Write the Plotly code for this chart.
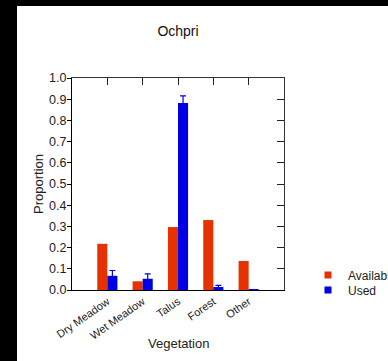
import plotly.graph_objects as go

categories = ["Dry Meadow", "Wet Meadow", "Talus", "Forest", "Other"]
available = [0.218, 0.041, 0.297, 0.330, 0.137]
used = [0.067, 0.053, 0.882, 0.014, 0.001]
used_err = [0.025, 0.023, 0.034, 0.008, 0.0]
yticks = [0.0, 0.1, 0.2, 0.3, 0.4, 0.5, 0.6, 0.7, 0.8, 0.9, 1.0]
ytick_labels = ["0.0", "0.1", "0.2", "0.3", "0.4", "0.5", "0.6", "0.7", "0.8", "0.9", "1.0"]

RED = "#E63200"
BLUE = "#0000E6"
FONT = "Liberation Sans, Arial, sans-serif"

W, H = 388, 361
L, R, T, B = 72, 104, 78, 71
pw, ph = W - L - R, H - T - B

def px2paper_x(p):
    return (p - L) / pw

def px2paper_y(p):
    return (H - B - p) / ph

fig = go.Figure()
fig.add_trace(go.Bar(x=categories, y=available, name="Available", marker=dict(color=RED, line=dict(width=0)),
                     showlegend=False))
fig.add_trace(go.Bar(x=categories, y=used, name="Used", marker=dict(color=BLUE, line=dict(width=0)),
                     error_y=dict(type="data", array=used_err, color=BLUE, thickness=1.2, width=3),
                     showlegend=False))
# legend entries
fig.add_trace(go.Scatter(x=[None], y=[None], mode="markers", name="Available", legend="legend",
                         marker=dict(symbol="square", size=7, color=RED)))
fig.add_trace(go.Scatter(x=[None], y=[None], mode="markers", name="Used", legend="legend2",
                         marker=dict(symbol="square", size=7, color=BLUE)))
# frame helper trace
fig.add_trace(go.Scatter(x=[None], y=[None], xaxis="x2", yaxis="y2", showlegend=False, hoverinfo="skip"))

fig.add_shape(type="rect", xref="paper", yref="paper",
              x0=px2paper_x(0), x1=px2paper_x(W), y0=px2paper_y(H), y1=px2paper_y(0),
              fillcolor="black", line=dict(width=0), layer="below")
fig.add_shape(type="rect", xref="paper", yref="paper",
              x0=px2paper_x(17), x1=px2paper_x(W + 2), y0=px2paper_y(H + 2), y1=px2paper_y(6),
              fillcolor="white", line=dict(width=0), layer="below")

fig.add_annotation(text="Vegetation", xref="paper", yref="paper",
                   x=px2paper_x(178), y=px2paper_y(343), xanchor="center", yanchor="middle",
                   showarrow=False, font=dict(size=13, color="#222"))

legend_common = dict(xanchor="left", yanchor="middle", bgcolor="rgba(0,0,0,0)",
                     font=dict(size=12, color="#222"), itemwidth=30)

fig.update_layout(
    width=W, height=H,
    margin=dict(l=L, r=R, t=T, b=B, autoexpand=False),
    paper_bgcolor="black",
    plot_bgcolor="rgba(0,0,0,0)",
    font=dict(family=FONT, size=12, color="#222"),
    title=dict(text="Ochpri", x=178 / W, xanchor="center",
               y=1 - 31 / H, yanchor="middle", font=dict(size=14, color="#111")),
    barmode="group", bargap=0.43, bargroupgap=0.0,
    xaxis=dict(type="category", categoryorder="array", categoryarray=categories,
               range=[-1, 5], showline=True, linecolor="black", linewidth=1,
               ticks="", tickangle=-35, tickfont=dict(size=11, color="#222"),
               showgrid=False, zeroline=False),
    yaxis=dict(range=[0, 1], tickvals=yticks, ticktext=ytick_labels, showline=True, linecolor="black",
               linewidth=1, ticks="outside", ticklen=4, tickcolor="black", ticklabelstandoff=-2,
               tickfont=dict(size=12.5, color="#222"), showgrid=False, zeroline=False,
               title=dict(text="Proportion", font=dict(size=13, color="#222"), standoff=2)),
    xaxis2=dict(overlaying="x", side="top", range=[-1, 5], tickvals=[0, 1, 2, 3, 4],
                showticklabels=False, ticks="inside", ticklen=7, tickcolor="#222",
                showline=True, linecolor="#333", linewidth=1, showgrid=False, zeroline=False),
    yaxis2=dict(overlaying="y", side="right", range=[0, 1], tickvals=yticks,
                showticklabels=False, ticks="inside", ticklen=7, tickcolor="#222",
                showline=True, linecolor="#333", linewidth=1, showgrid=False, zeroline=False),
    legend=dict(x=px2paper_x(308), y=px2paper_y(275), **legend_common),
    legend2=dict(x=px2paper_x(308), y=px2paper_y(290), **legend_common),
    showlegend=True,
)

fig.write_html("out.html")
